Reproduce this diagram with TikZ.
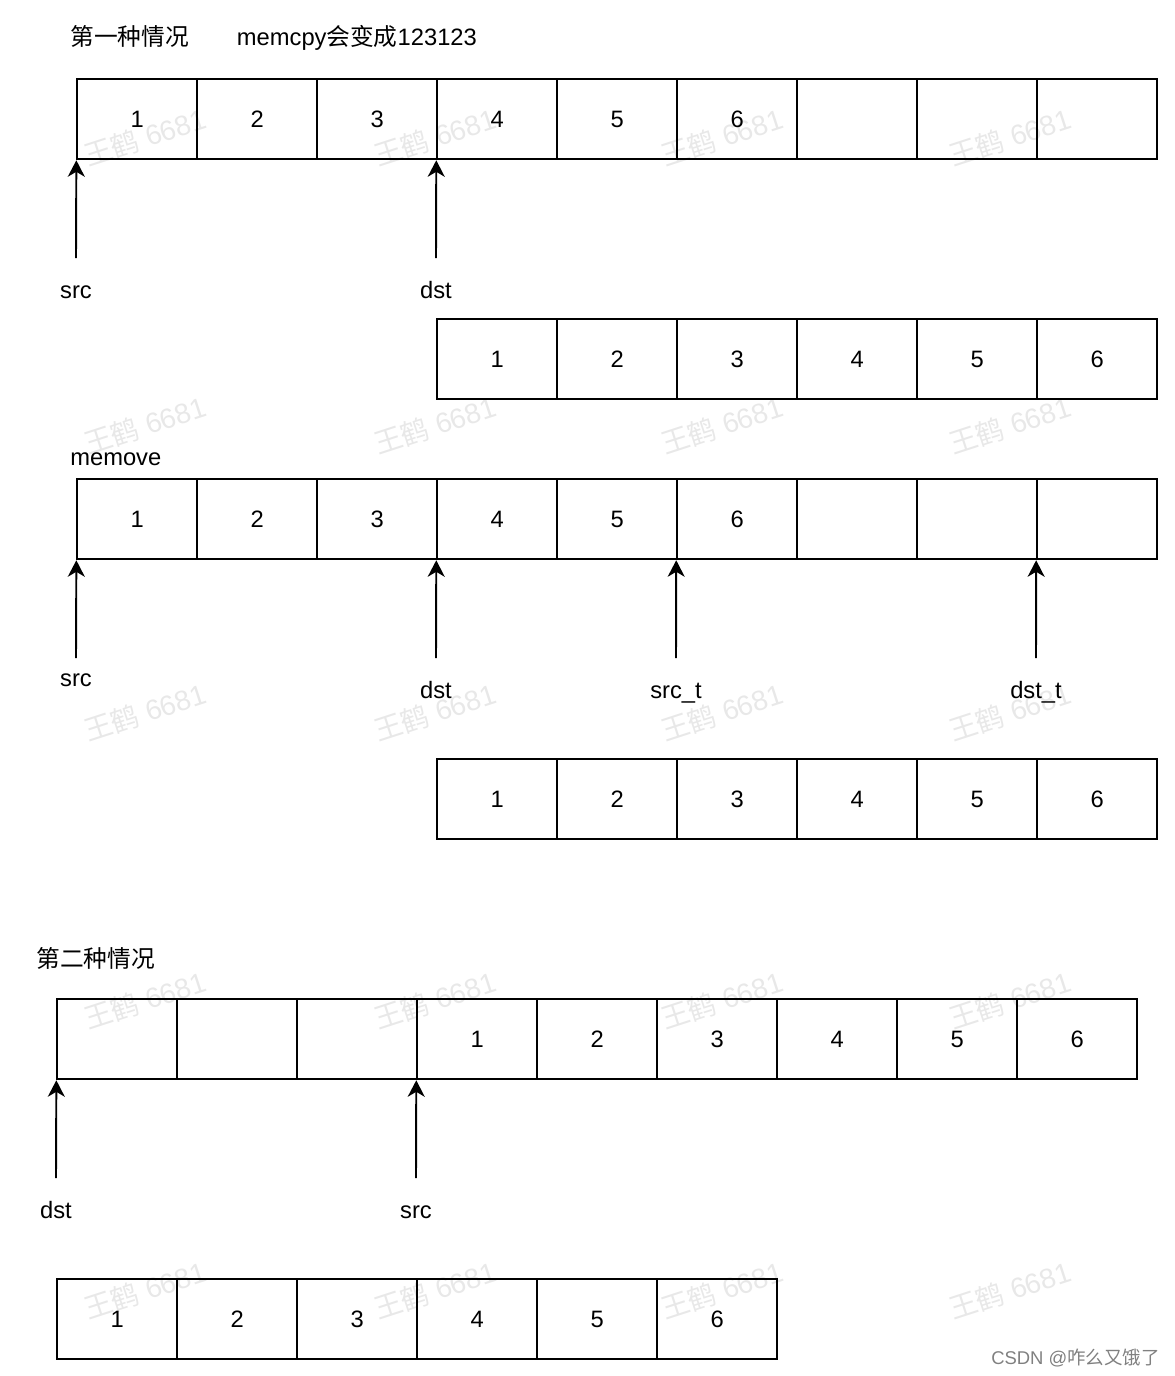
\documentclass[tikz,border=0pt]{standalone}
\usepackage{fontspec}
\setmainfont{Liberation Sans}
\newfontfamily\cjk{Noto Sans CJK SC}
\usetikzlibrary{matrix,arrows.meta}

\tikzset{
  memrow/.style={
    matrix of nodes,
    nodes in empty cells,
    inner sep=0pt,
    column sep=-1.1pt,
    nodes={draw, line width=1.1pt, anchor=center, minimum width=2.4cm, minimum height=1.6cm},
  },
  ptr/.style={line width=1.1pt, arrows={-Stealth[length=0.33cm, width=0.34cm, inset=0.1cm]}},
  lbl/.style={anchor=base, inner sep=0pt},
  wmark/.style={text=black!9, font=\fontsize{16}{18}\selectfont, rotate=18},
}

\begin{document}
\begin{tikzpicture}[x=0.02cm, y=-0.02cm, font=\fontsize{13.5}{16}\selectfont]
\useasboundingbox (0,0) rectangle (1174,1376);

% watermark
\foreach \wx in {145,435,722,1010}
  \foreach \wy in {137,425,712,1000,1290}
    \node[wmark] at (\wx,\wy) {{\cjk 王鹤} 6681};

% first case: memcpy
\node[lbl, anchor=base west] (title1) at (70,45) {{\cjk 第一种情况}\hspace{0.96cm}memcpy{\cjk 会变成}123123};
\matrix (a) at (76,78) [memrow, anchor=north west] {
1 & 2 & 3 & 4 & 5 & 6 & & & \\
};
\coordinate (srcA) at (76,258);
\coordinate (dstA) at (436,258);
\draw[ptr] (srcA) -- (a-1-1.south west);
\draw[ptr] (dstA) -- (a-1-4.south west);
\node[lbl] (srcAl) at (76,298) {src};
\node[lbl] (dstAl) at (436,298) {dst};
\matrix (b) at (436,318) [memrow, anchor=north west] {
1 & 2 & 3 & 4 & 5 & 6 \\
};

% memove
\node[lbl, anchor=base west] (title2) at (70,465) {memove};
\matrix (c) at (76,478) [memrow, anchor=north west] {
1 & 2 & 3 & 4 & 5 & 6 & & & \\
};
\coordinate (srcC) at (76,658);
\coordinate (dstC) at (436,658);
\coordinate (srctC) at (676,658);
\coordinate (dsttC) at (1036,658);
\draw[ptr] (srcC) -- (c-1-1.south west);
\draw[ptr] (dstC) -- (c-1-4.south west);
\draw[ptr] (srctC) -- (c-1-6.south west);
\draw[ptr] (dsttC) -- (c-1-9.south west);
\node[lbl] (srcCl) at (76,686) {src};
\node[lbl] (dstCl) at (436,698) {dst};
\node[lbl] (srctCl) at (676,698) {src\_t};
\node[lbl] (dsttCl) at (1036,698) {dst\_t};
\matrix (d) at (436,758) [memrow, anchor=north west] {
1 & 2 & 3 & 4 & 5 & 6 \\
};

% second case
\node[lbl, anchor=base west] (title3) at (36,967) {\cjk 第二种情况};
\matrix (e) at (56,998) [memrow, anchor=north west] {
 & & & 1 & 2 & 3 & 4 & 5 & 6 \\
};
\coordinate (dstE) at (56,1178);
\coordinate (srcE) at (416,1178);
\draw[ptr] (dstE) -- (e-1-1.south west);
\draw[ptr] (srcE) -- (e-1-4.south west);
\node[lbl] (dstEl) at (56,1218) {dst};
\node[lbl] (srcEl) at (416,1218) {src};
\matrix (f) at (56,1278) [memrow, anchor=north west] {
1 & 2 & 3 & 4 & 5 & 6 \\
};

\node[lbl, anchor=base east, text=black!50, font=\fontsize{10.5}{12}\selectfont] (csdn) at (1160,1364) {CSDN @{\cjk 咋么又饿了}};
\end{tikzpicture}
\end{document}
